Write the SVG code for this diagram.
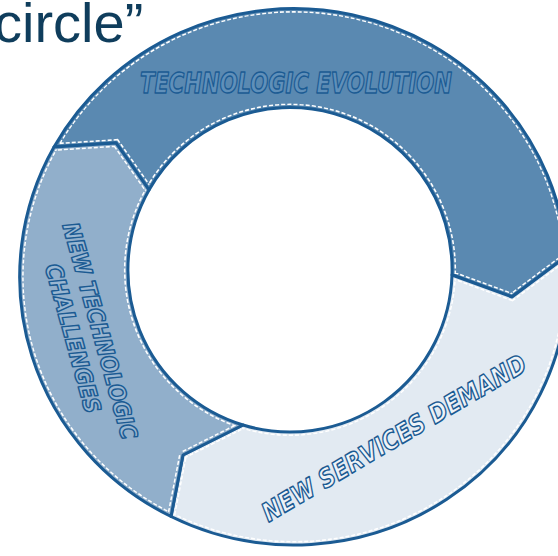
<svg xmlns="http://www.w3.org/2000/svg" width="558" height="556" viewBox="0 0 558 556">
  <style>
    .seg-edge { fill: none; stroke: #1b5b93; stroke-width: 3; stroke-linejoin: round; }
    .dash { fill: none; stroke: #ffffff; stroke-width: 8; stroke-dasharray: 4 2; }
    .cover { fill: none; stroke-width: 5; }
    .label { font-family: "DejaVu Sans", "Liberation Sans", sans-serif; font-weight: bold; font-style: italic; stroke: #1b5b93; stroke-width: 1.5; stroke-linejoin: round; text-anchor: middle; }
    .title { font-family: "Liberation Sans", Arial, sans-serif; font-size: 56px; fill: #0f3d5c; }
  </style>
  <defs>
    <!-- ring segments: outer ellipse c(294,277) rx274 ry268, inner circle c(290,270) r162 -->
    <path id="segTop" d="M54,147 A274,268 0 0 1 567,256 L512,297 L452,275 A162,162 0 0 0 149,190 L116,143 Z"/>
    <path id="segBottom" d="M567,256 A274,268 0 0 1 171,516.5 L183,455 L243,425 A162,162 0 0 0 452,275 L512,297 Z"/>
    <path id="segLeft" d="M171,516.5 A274,268 0 0 1 54,147 L116,143 L149,190 A162,162 0 0 0 243,425 L183,455 Z"/>
    <clipPath id="clipTop"><use href="#segTop"/></clipPath>
    <clipPath id="clipBottom"><use href="#segBottom"/></clipPath>
    <clipPath id="clipLeft"><use href="#segLeft"/></clipPath>
  </defs>

  <rect width="558" height="556" fill="#ffffff"/>

  <text class="title" x="-6" y="42">circle”</text>

  <g id="technologic-evolution">
    <use href="#segTop" fill="#5a89b1"/>
    <use href="#segTop" class="dash" clip-path="url(#clipTop)"/>
    <use href="#segTop" class="cover" stroke="#5a89b1" clip-path="url(#clipTop)"/>
    <use href="#segTop" class="seg-edge"/>
    <text class="label" x="296" y="93" font-size="28" fill="#6090ba" textLength="312" lengthAdjust="spacingAndGlyphs">TECHNOLOGIC EVOLUTION</text>
  </g>

  <g id="new-services-demand">
    <use href="#segBottom" fill="#e2eaf2"/>
    <use href="#segBottom" class="dash" clip-path="url(#clipBottom)"/>
    <use href="#segBottom" class="cover" stroke="#e2eaf2" clip-path="url(#clipBottom)"/>
    <use href="#segBottom" class="seg-edge"/>
    <g transform="translate(394,438) rotate(-30.5)">
      <text class="label" x="0" y="9" font-size="26" fill="#eef3f8" textLength="302" lengthAdjust="spacingAndGlyphs">NEW SERVICES DEMAND</text>
    </g>
  </g>

  <g id="new-technologic-challenges">
    <use href="#segLeft" fill="#91afcb"/>
    <use href="#segLeft" class="dash" clip-path="url(#clipLeft)"/>
    <use href="#segLeft" class="cover" stroke="#91afcb" clip-path="url(#clipLeft)"/>
    <use href="#segLeft" class="seg-edge"/>
    <g transform="translate(100,331) rotate(74.5)">
      <text class="label" x="0" y="8" font-size="23" fill="#9ab7d2" textLength="224" lengthAdjust="spacingAndGlyphs">NEW TECHNOLOGIC</text>
      <text class="label" x="0" y="36" font-size="23" fill="#9ab7d2" textLength="154" lengthAdjust="spacingAndGlyphs">CHALLENGES</text>
    </g>
  </g>
</svg>
